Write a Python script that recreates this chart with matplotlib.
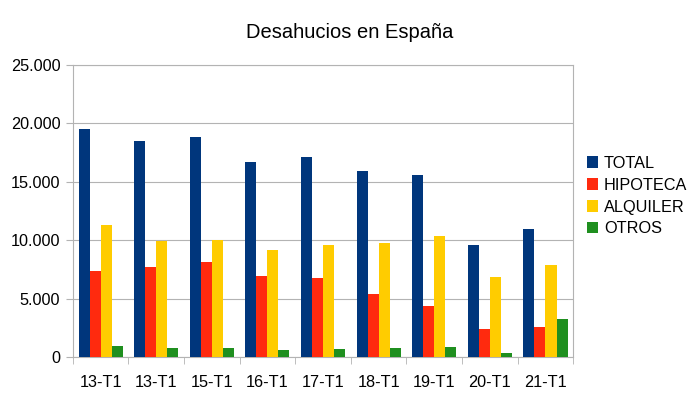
import matplotlib
matplotlib.use("Agg")
import matplotlib.pyplot as plt
import numpy as np

categories = ["13-T1", "13-T1", "15-T1", "16-T1", "17-T1", "18-T1", "19-T1", "20-T1", "21-T1"]
total = [19530, 18500, 18840, 16660, 17090, 15950, 15580, 9630, 10980]
hipoteca = [7350, 7720, 8150, 6970, 6750, 5400, 4370, 2370, 2600]
alquiler = [11290, 9950, 9980, 9120, 9630, 9720, 10320, 6890, 7860]
otros = [940, 800, 800, 630, 710, 800, 860, 340, 3260]
series_names = ["TOTAL", "HIPOTECA", "ALQUILER", "OTROS"]
colors = ["#00367c", "#ff2a0e", "#ffcc00", "#1f8f1f"]
yticks = [0, 5000, 10000, 15000, 20000, 25000]
ytick_labels = ["0", "5.000", "10.000", "15.000", "20.000", "25.000"]

plt.rcParams['font.family'] = ['Liberation Sans', 'DejaVu Sans']
fig = plt.figure(figsize=(7, 3.94), dpi=100)
ax = fig.add_axes([0.104, 0.094, 0.715, 0.741])

x = np.arange(len(categories))
w = 0.198
for i, (vals, name, c) in enumerate(zip([total, hipoteca, alquiler, otros], series_names, colors)):
    ax.bar(x + (i - 1.5) * w, vals, width=w, color=c, label=name, zorder=3)

ax.set_xlim(-0.5, len(categories) - 0.5)
ax.set_ylim(0, 25000)
ax.set_yticks(yticks)
ax.set_yticklabels(ytick_labels, fontsize=11.7)
ax.set_xticks(x)
ax.set_xticklabels(categories, fontsize=11.7)
ax.set_xticks(np.arange(-0.5, len(categories), 1), minor=True)
ax.tick_params(axis='x', which='major', length=0, pad=13)
ax.tick_params(axis='x', which='minor', length=5, color='#b3b3b3')
ax.tick_params(axis='y', length=5, color='#b3b3b3', pad=4)
ax.grid(axis='y', color='#b3b3b3', linewidth=0.8, zorder=0)
for s in ax.spines.values():
    s.set_color('#b3b3b3')
    s.set_linewidth(0.8)

fig.text(0.5, 0.918, "Desahucios en España", ha='center', va='center', fontsize=14.5)

leg = ax.legend(loc='center left', bbox_to_anchor=(1.014, 0.551), frameon=False,
                fontsize=11.7, handlelength=0.7, handleheight=0.7, handletextpad=0.35,
                labelspacing=0.42, borderaxespad=0)

fig.savefig("out.png", dpi=100)
